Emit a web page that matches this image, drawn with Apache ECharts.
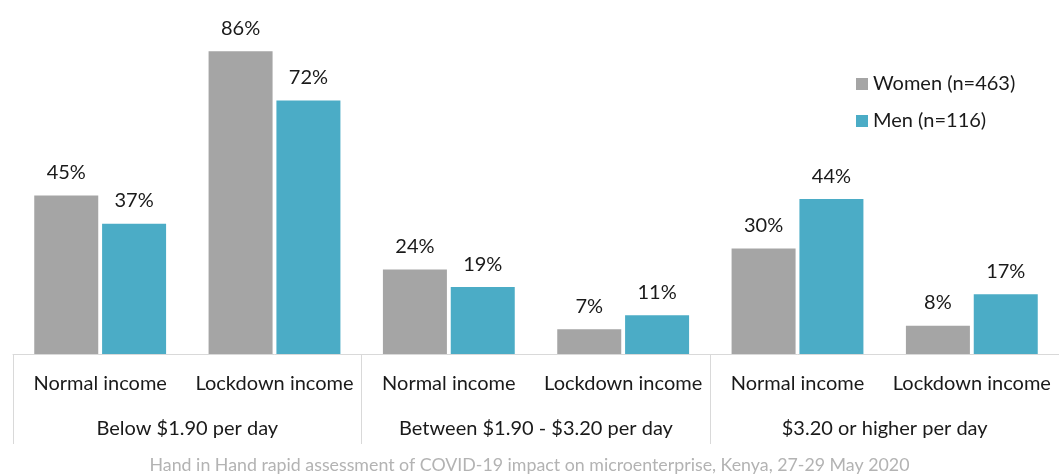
<!DOCTYPE html>
<html>
<head>
<meta charset="utf-8">
<script src="https://cdn.jsdelivr.net/npm/echarts@6/dist/echarts.min.js"></script>
<style>
  html, body { margin: 0; padding: 0; background: #fff; }
  #chart { width: 1059px; height: 476px; }
</style>
</head>
<body>
<div id="chart"></div>
<script>
// Income categories (inner axis) and poverty-line groups (outer axis)
const incomeTypes = ['Normal income', 'Lockdown income', 'Normal income', 'Lockdown income', 'Normal income', 'Lockdown income'];
const incomeGroups = ['Below $1.90 per day', 'Between $1.90 - $3.20 per day', '$3.20 or higher per day'];

// Share of respondents (%)
const women = [45, 86, 24, 7, 30, 8];
const men = [37, 72, 19, 11, 44, 17];

const seriesNames = ['Women (n=463)', 'Men (n=116)'];
const sourceNote = 'Hand in Hand rapid assessment of COVID-19 impact on microenterprise, Kenya, 27-29 May 2020';

const FONT = 'Lato';
const chart = echarts.init(document.getElementById('chart'));

const labelStyle = {
  show: true,
  position: 'top',
  distance: 13,
  formatter: '{c}%',
  fontFamily: FONT,
  fontSize: 20,
  color: '#1a1a1a'
};

chart.setOption({
  animation: false,
  textStyle: { fontFamily: FONT },
  title: {
    text: sourceNote,
    left: 'center',
    bottom: -3,
    textStyle: { fontFamily: FONT, fontSize: 17.8, fontWeight: 'normal', color: '#b3b3b3' }
  },
  legend: {
    orient: 'vertical',
    left: 851,
    top: 69,
    itemWidth: 12,
    itemHeight: 12,
    itemGap: 17,
    icon: 'rect',
    textStyle: { fontFamily: FONT, fontSize: 20, color: '#1a1a1a' },
    data: seriesNames
  },
  grid: { left: 13, top: 2, width: 1053, height: 352, containLabel: false },
  xAxis: [
    {
      type: 'category',
      data: incomeTypes,
      position: 'bottom',
      axisLine: { show: true, lineStyle: { color: '#d9d9d9', width: 1 } },
      axisTick: { show: false },
      axisLabel: { margin: 20, fontFamily: FONT, fontSize: 20, color: '#1a1a1a', interval: 0 }
    },
    {
      type: 'category',
      data: incomeGroups,
      position: 'bottom',
      axisLine: { show: false },
      axisTick: { show: true, length: 90, lineStyle: { color: '#d9d9d9', width: 1 } },
      axisLabel: { margin: 65, fontFamily: FONT, fontSize: 20, color: '#1a1a1a', interval: 0 }
    }
  ],
  yAxis: {
    type: 'value',
    min: 0,
    max: 100,
    show: false,
    splitLine: { show: false }
  },
  series: [
    {
      name: seriesNames[0],
      type: 'bar',
      xAxisIndex: 0,
      data: women,
      barWidth: 64,
      barGap: '6%',
      itemStyle: { color: '#a5a5a5' },
      label: labelStyle
    },
    {
      name: seriesNames[1],
      type: 'bar',
      xAxisIndex: 0,
      data: men,
      barWidth: 64,
      barGap: '6%',
      itemStyle: { color: '#4bacc6' },
      label: labelStyle
    }
  ]
});
</script>
</body>
</html>
